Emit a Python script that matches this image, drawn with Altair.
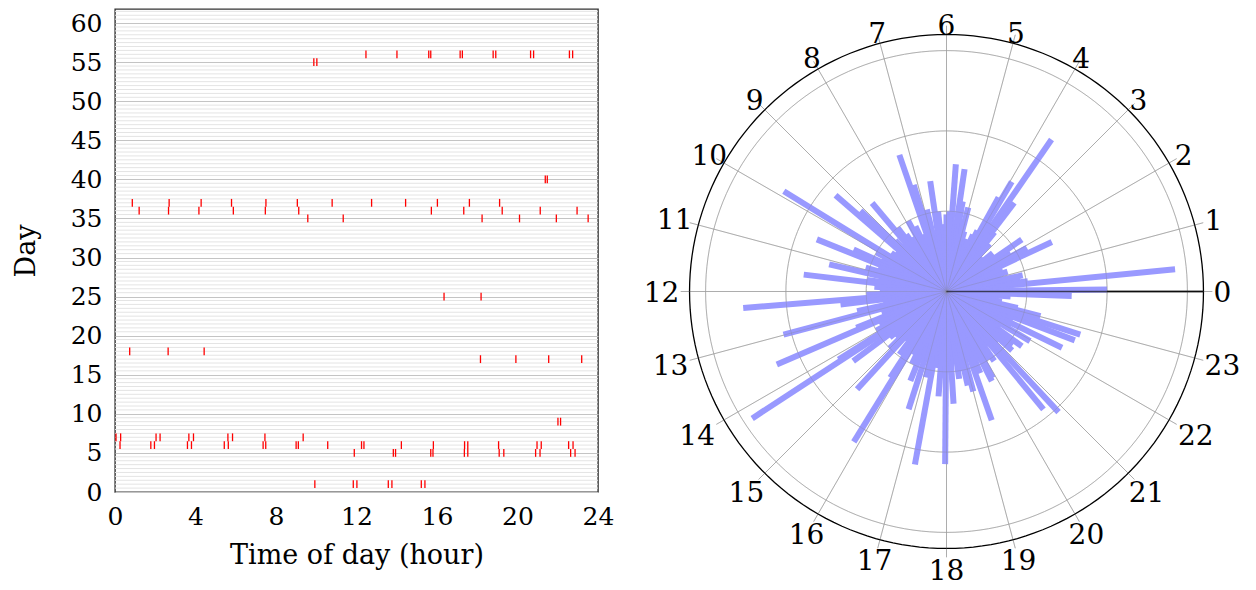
import altair as alt
import pandas as pd

FONT = "DejaVu Serif"

# ---------------- left panel: event times (hour of day) for each day ----------------
hours_day56 = [12.47, 14.01, 15.59, 15.69, 17.15, 17.26, 18.79, 18.92, 20.65, 20.80, 22.58, 22.74]
hours_day55 = [9.88, 10.03]
hours_day40 = [21.38, 21.48]
hours_day37 = [0.86, 2.69, 4.28, 5.79, 7.50, 9.06, 10.79, 12.75, 14.44, 16.02, 17.61, 19.11]
hours_day36 = [1.20, 2.66, 4.17, 5.88, 7.47, 9.13, 15.72, 17.33, 19.24, 21.13, 22.96]
hours_day35 = [9.58, 11.34, 18.24, 20.10, 21.93, 23.51]
hours_day25 = [16.35, 18.19]
hours_day18 = [0.73, 2.64, 4.43]
hours_day17 = [18.16, 19.92, 21.55, 23.19]
hours_day9 = [22.01, 22.14]
hours_day7 = [0.05, 0.28, 2.04, 2.24, 3.67, 3.90, 5.61, 5.84, 7.45, 9.35]
hours_day6 = [0.25, 1.78, 1.96, 3.60, 3.80, 5.43, 5.63, 7.36, 7.49, 9.00, 9.11, 10.57,
              12.25, 12.37, 14.23, 15.82, 17.37, 17.53, 19.06, 20.97, 21.18, 22.54, 22.76]
hours_day5 = [11.89, 13.83, 13.94, 15.69, 15.80, 17.36, 17.53, 19.09, 19.32, 20.90, 21.12, 22.64, 22.86]
hours_day1 = [9.93, 11.84, 12.02, 13.58, 13.76, 15.22, 15.40]

days = {56: hours_day56, 55: hours_day55, 40: hours_day40, 37: hours_day37, 36: hours_day36,
        35: hours_day35, 25: hours_day25, 18: hours_day18, 17: hours_day17, 9: hours_day9,
        7: hours_day7, 6: hours_day6, 5: hours_day5, 1: hours_day1}

x_ticks = [0, 4, 8, 12, 16, 20, 24]
y_ticks = [0, 5, 10, 15, 20, 25, 30, 35, 40, 45, 50, 55, 60]
minor_days = [k / 2 for k in range(0, 124) if k % 10 != 0]

# ---------------- right panel: polar bars (hour of day, length) ----------------
bar_hour = [0.05, 0.2, 0.37, 0.48, 0.6, 0.73, 0.8, 1.0, 1.2, 1.4, 1.55, 1.68, 1.9, 2.05, 2.17, 2.31,
            2.5, 2.65, 2.85, 3.03, 3.2, 3.4, 3.51, 3.69, 3.8, 3.95, 4.07, 4.2, 4.33, 4.45, 4.6, 4.75,
            4.9, 5.03, 5.2, 5.32, 5.44, 5.6, 5.72, 5.85, 6.0, 6.1, 6.25, 6.4, 6.56, 6.74, 6.9, 7.02,
            7.14, 7.27, 7.5, 7.7, 7.9, 8.1, 8.2, 8.35, 8.5, 8.67, 8.85, 9.0, 9.12, 9.27, 9.45, 9.67,
            9.89, 10.05, 10.2, 10.38, 10.54, 10.7, 10.9, 11.13, 11.3, 11.45, 11.55, 11.75, 11.9, 12.0,
            12.15, 12.31, 12.47, 12.65, 12.83, 12.99, 13.2, 13.35, 13.46, 13.55, 13.75, 13.95, 14.15,
            14.21, 14.45, 14.6, 14.8, 15.0, 15.17, 15.35, 15.55, 15.7, 15.79, 15.89, 16.13, 16.3,
            16.53, 16.7, 16.81, 16.95, 17.1, 17.31, 17.49, 17.6, 17.71, 17.85, 17.97, 18.1, 18.24,
            18.4, 18.55, 18.69, 18.85, 19.0, 19.15, 19.29, 19.5, 19.69, 19.79, 19.88, 20.1, 20.3,
            20.45, 20.63, 20.75, 20.86, 21.0, 21.2, 21.43, 21.6, 21.8, 21.95, 22.1, 22.27, 22.45,
            22.61, 22.81, 23.02, 23.13, 23.3, 23.51, 23.7, 23.86]
bar_len = [2.00, 0.75, 2.86, 1.02, 0.6, 0.93, 0.97, 0.7, 0.8, 0.65, 0.75, 1.45, 1.14, 0.7, 0.93, 1.14,
           0.7, 0.75, 0.6, 0.62, 0.8, 0.95, 1.39, 2.30, 0.9, 1.59, 1.34, 0.85, 0.78, 0.65, 0.7, 0.6,
           0.78, 1.08, 0.9, 1.14, 1.54, 0.85, 1.59, 1.0, 0.96, 0.7, 0.84, 1.0, 1.39, 0.77, 1.05, 0.8,
           1.39, 1.80, 0.77, 0.9, 1.0, 0.7, 0.8, 0.87, 1.0, 1.44, 0.8, 0.9, 1.47, 1.83, 0.8, 0.84,
           2.38, 1.0, 0.9, 1.27, 1.74, 0.9, 1.05, 1.50, 0.85, 1.0, 1.79, 0.9, 0.75, 0.83,
           1.0, 2.54, 1.33, 0.8, 1.14, 2.10, 0.85, 0.7, 1.21, 2.30, 0.93, 1.0, 1.59,
           2.89, 1.45, 0.91, 0.85, 1.0, 1.65, 0.8, 0.98, 0.8, 1.28, 2.20, 0.89, 1.0,
           1.20, 0.85, 1.54, 0.9, 1.1, 2.19, 0.96, 0.8, 1.31, 0.8, 2.15, 0.99, 1.40,
           0.9, 1.1, 1.01, 1.2, 1.29, 0.9, 1.70, 1.1, 0.96, 1.25, 1.22, 1.0, 1.05,
           0.85, 1.90, 0.97, 2.05, 0.9, 1.1, 1.06, 1.16, 0.8, 1.21, 0.91, 1.60, 0.9,
           1.71, 1.75, 1.21, 0.91, 0.7, 0.62, 0.8, 1.56]
hour_labels = ["0", "1", "2", "3", "4", "5", "6", "7", "8", "9", "10", "11", "12", "13", "14",
               "15", "16", "17", "18", "19", "20", "21", "22", "23"]
ring_radii = [1, 2, 3]
outer_radius = 3.2

# ---------------- left chart ----------------
ev_rows = [(d, h) for d, hs in days.items() for h in hs]
ev = pd.DataFrame(ev_rows, columns=["day", "hour"])
minor_df = pd.DataFrame({"v": minor_days})

xsc = alt.Scale(domain=[0, 24], nice=False, zero=False)
ysc = alt.Scale(domain=[0, 61.8], nice=False, zero=False)
x_axis = alt.Axis(values=x_ticks, title="Time of day (hour)", grid=False, ticks=False, tickSize=0,
                  domain=False, labelPadding=12, titlePadding=13, labelFlush=False)
y_axis = alt.Axis(values=y_ticks, title="Day", grid=True, gridColor="#c4c4c4", gridWidth=1,
                  ticks=False, tickSize=0, domain=False, labelPadding=13, titlePadding=30,
                  labelFlush=False)

minor = alt.Chart(minor_df).mark_rule(color="#e4e4e4", strokeWidth=1).encode(
    y=alt.Y("v:Q", scale=ysc, axis=y_axis)
)
ticks = alt.Chart(ev).transform_calculate(
    d0="datum.day - 0.5", d1="datum.day + 0.5"
).mark_rule(color="#ff0000", strokeWidth=1.3).encode(
    x=alt.X("hour:Q", scale=xsc, axis=x_axis),
    y=alt.Y("d0:Q", scale=ysc, axis=y_axis),
    y2="d1:Q",
)
left = alt.layer(minor, ticks).properties(
    width=483, height=483,
    view=alt.ViewBackground(stroke="#333333", strokeWidth=1.4),
)

# ---------------- polar chart ----------------
PX = 80.3
PW, PH = 626, 580
CX_OFF = 325.5   # distance of the pole from the panel's left edge
CY_OFF = 282.5   # distance of the pole from the panel's top edge
xs = alt.Scale(domain=[-CX_OFF / PX, (PW - CX_OFF) / PX], nice=False, zero=False)
ys = alt.Scale(domain=[-(PH - CY_OFF) / PX, CY_OFF / PX], nice=False, zero=False)


def XY(xf, yf):
    return dict(x=alt.X(f"{xf}:Q", scale=xs, axis=None), y=alt.Y(f"{yf}:Q", scale=ys, axis=None))


hours_df = pd.DataFrame({"lbl": hour_labels})
spokes_base = alt.Chart(hours_df).transform_calculate(
    a="toNumber(datum.lbl) * PI / 12", zero="0",
    ex="3.31 * cos(datum.a)", ey="3.31 * sin(datum.a)",
)
spokes = spokes_base.mark_rule(color="#b8b8b8", strokeWidth=0.9).encode(**XY("zero", "zero"), x2="ex:Q", y2="ey:Q")
spokes_top = spokes_base.mark_rule(color="#808080", strokeWidth=0.8, opacity=0.35).encode(**XY("zero", "zero"), x2="ex:Q", y2="ey:Q")


def ring(r, color, width, opacity=1.0):
    return alt.Chart(alt.sequence(0, 362, 2, as_="deg")).transform_calculate(
        cx=f"{r} * cos(datum.deg * PI / 180)", cy=f"{r} * sin(datum.deg * PI / 180)"
    ).mark_line(color=color, strokeWidth=width, opacity=opacity).encode(
        **XY("cx", "cy"), order="deg:Q"
    )


rings = [ring(r, "#bdbdbd", 0.9) for r in ring_radii]
rings_top = [ring(r, "#808080", 0.8, 0.35) for r in ring_radii]
outer = ring(outer_radius, "#000000", 1.3)

axis_df = pd.DataFrame({"r": [outer_radius]})
axis_line = alt.Chart(axis_df).transform_calculate(zero="0").mark_rule(color="#000000", strokeWidth=1.3).encode(
    **XY("zero", "zero"), x2="r:Q", y2="zero:Q")
axis_line_top = alt.Chart(axis_df).transform_calculate(zero="0").mark_rule(
    color="#000000", strokeWidth=1.3, opacity=0.6).encode(**XY("zero", "zero"), x2="r:Q", y2="zero:Q")

bars_df = pd.DataFrame({"h": bar_hour, "len": bar_len})
bars = alt.Chart(bars_df).transform_calculate(
    a="datum.h * PI / 12", zero="0",
    ex="datum.len * cos(datum.a)", ey="datum.len * sin(datum.a)",
).mark_rule(color="#9999ff", strokeWidth=6, strokeCap="butt").encode(
    **XY("zero", "zero"), x2="ex:Q", y2="ey:Q")

labels = alt.Chart(hours_df).transform_calculate(
    a="toNumber(datum.lbl) * PI / 12",
    hw="length(datum.lbl) * 9 + 1",
    hh="sin(datum.a) > 0 ? 4 : 12",
    d="min(datum.hw / max(abs(cos(datum.a)), 0.001), datum.hh / max(abs(sin(datum.a)), 0.001))",
    rr="(266 + datum.d - 3 * pow(max(sin(datum.a), 0), 6)) / 80.3",
    lx="datum.rr * cos(datum.a)", ly="datum.rr * sin(datum.a)",
).mark_text(font=FONT, fontSize=28, color="#000000", align="center", baseline="middle", clip=True, dy=2).encode(
    **XY("lx", "ly"), text="lbl:N")

polar = alt.layer(
    spokes, *rings, outer, axis_line, bars, spokes_top, *rings_top, axis_line_top, labels
).properties(width=PW, height=PH, view=alt.ViewBackground(stroke="transparent"))

chart = alt.hconcat(left, polar, spacing=5).properties(
    padding={"left": 3, "top": 0, "right": 0, "bottom": 0}
).configure_axis(
    labelFont=FONT, titleFont=FONT, labelFontSize=25, titleFontSize=27,
    labelColor="#000000", titleColor="#000000", titleFontWeight="normal",
)

chart.save("out.html", embed_options={"renderer": "svg", "actions": False})
